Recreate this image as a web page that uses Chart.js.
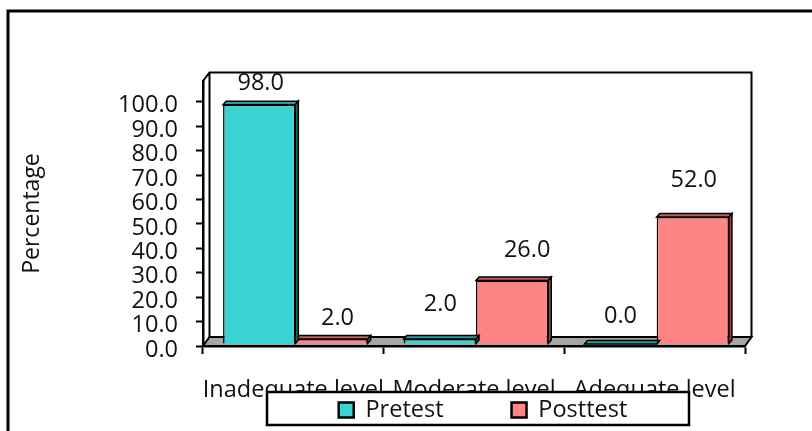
<!DOCTYPE html>
<html>
<head>
<meta charset="utf-8">
<title>Pretest and posttest levels</title>
<script src="https://cdn.jsdelivr.net/npm/chart.js@4/dist/chart.umd.min.js"></script>
<style>
    html, body { margin: 0; padding: 0; background: #fff; }
    canvas { display: block; }
</style>
</head>
<body>
<canvas id="levelChart" width="812" height="431"></canvas>
<script>
const categories = ['Inadequate level', 'Moderate level', 'Adequate level'];
const pretestValues = [98.0, 2.0, 0.0];
const posttestValues = [2.0, 26.0, 52.0];
const yTickValues = [0, 10, 20, 30, 40, 50, 60, 70, 80, 90, 100];

const FONT = "'Open Sans', sans-serif";
const FONT_SIZE = 23.5;
const TEXT = '#111';
const DEPTH_X = 3;
const DEPTH_Y = 3.5;
const BAR_SHIFT_X = 2;
const BAR_SHIFT_Y = -2;
const LEGEND_PADDING = 68;

// value labels are placed by hand in the original, so each one has its own nudge from its bar
const labelLift = [[21, 35, 28], [21, 30, 37]];
const labelNudge = [[1.5, 0.5, 0], [6, 15, 1]];

const barShades = [
    { top: '#2a9a9a', side: '#1c6f6f' },
    { top: '#c45c5c', side: '#a04a4a' }
];

function poly(ctx, points, fill) {
    ctx.beginPath();
    points.forEach((p, i) => i ? ctx.lineTo(p[0], p[1]) : ctx.moveTo(p[0], p[1]));
    ctx.closePath();
    if (fill) {
        ctx.fillStyle = fill;
        ctx.fill();
    }
    ctx.stroke();
}

// Outer frame, back wall and floor of the fake 3D box
const boxPlugin = {
    id: 'box',
    // the legend floats over the axis labels, so it must not take space from the plot
    beforeLayout(chart) {
        const legend = chart.legend;
        if (legend._boxed) return;
        const fitLegend = legend.fit.bind(legend);
        legend.fit = function() {
            fitLegend();
            legend.height = 0;
        };
        const drawLegend = legend.draw.bind(legend);
        legend.draw = function() {
            const { ctx } = chart;
            ctx.save();
            ctx.fillStyle = '#fff';
            ctx.strokeStyle = '#000';
            ctx.lineWidth = 2.5;
            ctx.fillRect(267, 392, 422, 33);
            ctx.strokeRect(267, 392, 422, 33);
            ctx.restore();
            drawLegend();
        };
        legend._boxed = true;
    },
    afterLayout(chart) {
        const legend = chart.legend;
        legend.left = 211;
        legend.right = 755;
        legend.width = 544;
        legend.top = 410 - LEGEND_PADDING - FONT_SIZE / 2;
        legend.bottom = 431;
        legend.height = legend.bottom - legend.top;
    },
    beforeDatasetsDraw(chart) {
        const { ctx, chartArea: a } = chart;
        const backX = a.left + 6.5, backRight = a.right + 6.5;
        const backTop = 72.5, floorBack = a.bottom - 9;
        ctx.save();
        ctx.strokeStyle = '#000';

        ctx.lineWidth = 3;
        ctx.beginPath();
        ctx.moveTo(8, 431);
        ctx.lineTo(8, 11);
        ctx.lineTo(812, 11);
        ctx.stroke();

        ctx.lineWidth = 2;
        ctx.beginPath();
        ctx.moveTo(a.left, a.top);
        ctx.lineTo(backX, backTop);
        ctx.lineTo(backRight, backTop);
        ctx.lineTo(backRight, floorBack);
        ctx.moveTo(backX, backTop);
        ctx.lineTo(backX, floorBack);
        ctx.stroke();

        poly(ctx, [[a.left, a.bottom], [a.right, a.bottom], [backRight, floorBack], [backX, floorBack]], '#a6a6a6');
        ctx.restore();
    },
    // bars sit a little inside the box, the same shift for all of them
    beforeDatasetDraw(chart) {
        chart.ctx.save();
        chart.ctx.translate(BAR_SHIFT_X, BAR_SHIFT_Y);
    },
    afterDatasetDraw(chart, args) {
        const { ctx } = chart;
        const shade = barShades[args.index];
        ctx.strokeStyle = '#000';
        ctx.lineWidth = 1.5;
        args.meta.data.forEach(bar => {
            const half = bar.width / 2;
            const l = bar.x - half, r = bar.x + half;
            const t = bar.y, b = bar.base;
            poly(ctx, [[l, t], [r, t], [r + DEPTH_X, t - DEPTH_Y], [l + DEPTH_X, t - DEPTH_Y]], shade.top);
            poly(ctx, [[r, t], [r + DEPTH_X, t - DEPTH_Y], [r + DEPTH_X, b - DEPTH_Y], [r, b]], shade.side);
        });
        ctx.restore();
    },
    afterDatasetsDraw(chart) {
        const { ctx } = chart;
        ctx.save();
        ctx.font = FONT_SIZE + 'px ' + FONT;
        ctx.fillStyle = TEXT;
        ctx.textAlign = 'center';
        ctx.textBaseline = 'middle';
        chart.data.datasets.forEach((ds, i) => {
            chart.getDatasetMeta(i).data.forEach((bar, j) => {
                ctx.fillText(ds.data[j].toFixed(1), bar.x + BAR_SHIFT_X + labelNudge[i][j], bar.y + BAR_SHIFT_Y - labelLift[i][j]);
            });
        });
        ctx.restore();
    }
};

new Chart(document.getElementById('levelChart'), {
    type: 'bar',
    data: {
        labels: categories,
        datasets: [
            {
                label: 'Pretest',
                data: pretestValues,
                backgroundColor: '#39d3d3',
                borderColor: '#000',
                borderWidth: 1.5,
                clip: false
            },
            {
                label: 'Posttest',
                data: posttestValues,
                backgroundColor: '#ff8585',
                borderColor: '#000',
                borderWidth: 1.5,
                clip: false
            }
        ]
    },
    options: {
        responsive: false,
        animation: false,
        layout: { padding: { top: 81, right: 67, left: 0, bottom: 0 } },
        datasets: { bar: { categoryPercentage: 0.8, barPercentage: 1 } },
        plugins: {
            title: { display: false },
            tooltip: { enabled: false },
            legend: {
                position: 'bottom',
                align: 'center',
                labels: {
                    boxWidth: 15,
                    boxHeight: 15,
                    padding: LEGEND_PADDING,
                    color: TEXT,
                    font: { size: FONT_SIZE, family: FONT },
                    generateLabels(chart) {
                        return Chart.defaults.plugins.legend.labels.generateLabels(chart).map(item => {
                            item.lineWidth = 2.5;
                            return item;
                        });
                    }
                }
            }
        },
        scales: {
            x: {
                afterFit(axis) { axis.height = 85; },
                grid: { display: true, drawOnChartArea: false, offset: true, tickLength: 8, tickWidth: 2, tickColor: '#000' },
                border: { color: '#000', width: 2.5 },
                ticks: { color: TEXT, padding: 22, maxRotation: 0, autoSkip: false, z: -1, font: { size: FONT_SIZE, family: FONT } }
            },
            y: {
                min: 0,
                max: 108.5,
                afterFit(axis) { axis.width = 203; },
                afterBuildTicks(axis) { axis.ticks = yTickValues.map(value => ({ value })); },
                grid: { display: true, drawOnChartArea: false, tickLength: 7, tickWidth: 2, tickColor: '#000' },
                border: { color: '#000', width: 2.5 },
                ticks: {
                    color: TEXT,
                    padding: 18,
                    labelOffset: 4,
                    autoSkip: false,
                    font: { size: FONT_SIZE, family: FONT },
                    callback: value => value.toFixed(1)
                },
                title: {
                    display: true,
                    text: 'Percentage',
                    color: TEXT,
                    padding: { top: 19, bottom: 0 },
                    font: { size: 23, family: FONT }
                }
            }
        }
    },
    plugins: [boxPlugin]
});
</script>
</body>
</html>
